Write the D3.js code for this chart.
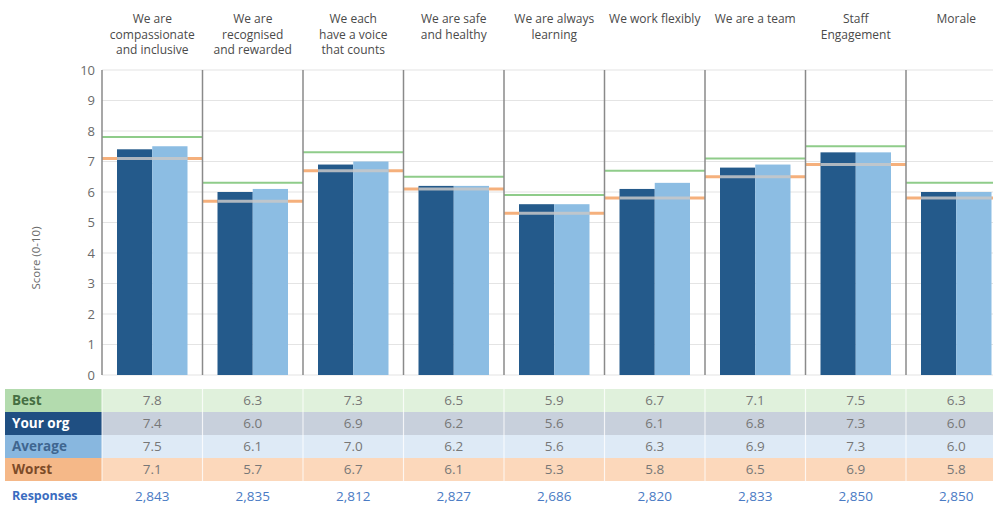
<!DOCTYPE html>
<html>
<head>
<meta charset="utf-8">
<script src="https://cdn.jsdelivr.net/npm/d3@7"></script>
<style>
  html, body { margin: 0; padding: 0; background: #fff; }
  svg { display: block; font-family: "Open Sans", "Noto Sans", sans-serif; }
</style>
</head>
<body>
<svg id="chart" width="993" height="506"></svg>
<script>
const categories = [
  ["We are", "compassionate", "and inclusive"],
  ["We are", "recognised", "and rewarded"],
  ["We each", "have a voice", "that counts"],
  ["We are safe", "and healthy"],
  ["We are always", "learning"],
  ["We work flexibly"],
  ["We are a team"],
  ["Staff", "Engagement"],
  ["Morale"]
];
const best    = [7.8, 6.3, 7.3, 6.5, 5.9, 6.7, 7.1, 7.5, 6.3];
const yourOrg = [7.4, 6.0, 6.9, 6.2, 5.6, 6.1, 6.8, 7.3, 6.0];
const average = [7.5, 6.1, 7.0, 6.2, 5.6, 6.3, 6.9, 7.3, 6.0];
const worst   = [7.1, 5.7, 6.7, 6.1, 5.3, 5.8, 6.5, 6.9, 5.8];
const responses = ["2,843", "2,835", "2,812", "2,827", "2,686", "2,820", "2,833", "2,850", "2,850"];
const yTicks = [0, 1, 2, 3, 4, 5, 6, 7, 8, 9, 10];
const rowLabels = ["Best", "Your org", "Average", "Worst"];

const svg = d3.select("#chart");
const left = 102, colW = 100.5;
const idx = d3.range(categories.length);
const x = d3.scaleBand().domain(idx).range([left, left + colW * categories.length]).paddingInner(0).paddingOuter(0);
const y = d3.scaleLinear().domain([0, 10]).range([375, 70]);
const inner = d3.scaleBand().domain(["org", "avg"]).range([15, colW - 15]).padding(0);

// gridlines
svg.append("g").selectAll("line").data(yTicks).join("line")
  .attr("x1", left).attr("x2", x.range()[1])
  .attr("y1", d => y(d)).attr("y2", d => y(d))
  .attr("stroke", "#e4e4e4").attr("stroke-width", 1.2);

// y tick labels
svg.append("g").selectAll("text").data(yTicks).join("text")
  .attr("x", 95).attr("y", d => y(d)).attr("dy", "0.35em")
  .attr("text-anchor", "end").attr("font-size", 13).attr("fill", "#6a6a6a")
  .text(d => d);

// y title
svg.append("text")
  .attr("transform", "translate(40,258) rotate(-90)")
  .attr("text-anchor", "middle").attr("font-size", 11.5).attr("fill", "#6a6a6a")
  .text("Score (0-10)");

// best lines (green)
svg.append("g").selectAll("line").data(idx).join("line")
  .attr("x1", i => x(i)).attr("x2", i => x(i) + colW)
  .attr("y1", i => y(best[i])).attr("y2", i => y(best[i]))
  .attr("stroke", "#8fcc8a").attr("stroke-width", 2);

// worst lines (orange)
svg.append("g").selectAll("line").data(idx).join("line")
  .attr("x1", i => x(i)).attr("x2", i => x(i) + colW)
  .attr("y1", i => y(worst[i])).attr("y2", i => y(worst[i]))
  .attr("stroke", "#f5b07c").attr("stroke-width", 3);

// bars
const barG = svg.append("g");
barG.selectAll("rect.org").data(idx).join("rect").attr("class", "org")
  .attr("x", i => x(i) + inner("org")).attr("width", inner.bandwidth())
  .attr("y", i => y(yourOrg[i])).attr("height", i => y(0) - y(yourOrg[i]))
  .attr("fill", "#245a8b");
barG.selectAll("rect.avg").data(idx).join("rect").attr("class", "avg")
  .attr("x", i => x(i) + inner("avg")).attr("width", inner.bandwidth())
  .attr("y", i => y(average[i])).attr("height", i => y(0) - y(average[i]))
  .attr("fill", "#8cbde3");

// worst overlay across bars (grey highlight)
svg.append("g").selectAll("line").data(idx.filter(i => worst[i] <= Math.max(yourOrg[i], average[i]))).join("line")
  .attr("x1", i => x(i) + inner("org")).attr("x2", i => x(i) + inner("avg") + inner.bandwidth())
  .attr("y1", i => y(worst[i])).attr("y2", i => y(worst[i]))
  .attr("stroke", "#c8c8c8").attr("stroke-opacity", 0.85).attr("stroke-width", 3);

// column separators + left axis
svg.append("g").selectAll("line").data(d3.range(categories.length + 1)).join("line")
  .attr("x1", i => left + i * colW).attr("x2", i => left + i * colW)
  .attr("y1", y(10)).attr("y2", y(0))
  .attr("stroke", "#8a8a8a").attr("stroke-width", 1.5);

// headers
const hdr = svg.append("g").selectAll("text").data(idx).join("text")
  .attr("x", i => x(i) + colW / 2).attr("y", 19)
  .attr("text-anchor", "middle").attr("font-size", 12).attr("fill", "#4a4a4a");
hdr.selectAll("tspan").data(i => categories[i]).join("tspan")
  .attr("x", function () { return d3.select(this.parentNode).attr("x"); })
  .attr("dy", (d, j) => j === 0 ? "0.35em" : "15.3")
  .text(d => d);

// table
const rowTop = 389, rowH = 23;
const rowData = [best, yourOrg, average, worst];
const labelBg = ["#b3dbae", "#1f4f82", "#88b7df", "#f5b888"];
const labelFg = ["#456e42", "#ffffff", "#3f6690", "#7d4b28"];
const cellBg = ["#e0f1dc", "#c8d0dc", "#deeaf6", "#fcd8bb"];
const tbl = svg.append("g");
rowLabels.forEach((lab, r) => {
  const ry = rowTop + r * rowH;
  tbl.append("rect").attr("x", 5).attr("y", ry).attr("width", 97).attr("height", rowH).attr("fill", labelBg[r]);
  tbl.append("text").attr("x", 12).attr("y", ry + rowH / 2).attr("dy", "0.35em")
    .attr("font-size", 13.5).attr("font-weight", "bold").attr("fill", labelFg[r]).text(lab);
  tbl.append("g").selectAll("rect").data(idx).join("rect")
    .attr("x", i => x(i)).attr("width", colW).attr("y", ry).attr("height", rowH)
    .attr("fill", cellBg[r]);
  tbl.append("g").selectAll("text").data(idx).join("text")
    .attr("x", i => x(i) + colW / 2).attr("y", ry + rowH / 2).attr("dy", "0.35em")
    .attr("text-anchor", "middle").attr("font-size", 13.5).attr("fill", "#777")
    .text(i => d3.format(".1f")(rowData[r][i]));
});
// white column separators in table
tbl.append("g").selectAll("line").data(d3.range(categories.length + 1)).join("line")
  .attr("x1", i => left + i * colW).attr("x2", i => left + i * colW)
  .attr("y1", rowTop).attr("y2", rowTop + rowH * 4)
  .attr("stroke", "#ffffff").attr("stroke-opacity", 0.7).attr("stroke-width", 1.2);

// responses
svg.append("text").attr("x", 12).attr("y", 496).attr("dy", "0.35em")
  .attr("font-size", 12.5).attr("font-weight", "bold").attr("fill", "#3a6cc0").text("Responses");
svg.append("g").selectAll("text").data(idx).join("text")
  .attr("x", i => x(i) + colW / 2).attr("y", 496).attr("dy", "0.35em")
  .attr("text-anchor", "middle").attr("font-size", 13.5).attr("fill", "#4a7bc4")
  .text(i => responses[i]);
</script>
</body>
</html>
